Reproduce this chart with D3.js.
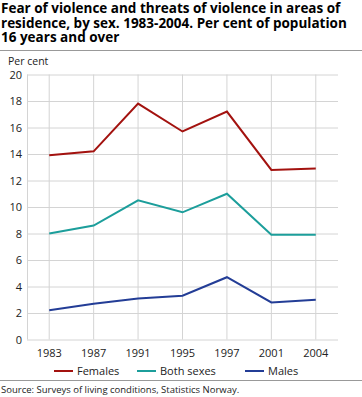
<!DOCTYPE html>
<html><head><meta charset="utf-8">
<script src="https://cdn.jsdelivr.net/npm/d3@7"></script>
<style>body{margin:0;background:#fff;} text{font-family:"Open Sans",sans-serif;}</style>
</head><body>
<svg id="c" width="362" height="397"></svg>
<script>
const years = ["1983","1987","1991","1995","1997","2001","2004"];
const females = [13.9,14.2,17.8,15.7,17.2,12.8,12.9];
const bothSexes = [8.0,8.6,10.5,9.6,11.0,7.9,7.9];
const males = [2.2,2.7,3.1,3.3,4.7,2.8,3.0];
const seriesNames = ["Females","Both sexes","Males"];
const seriesColors = ["#a3120f","#1c9e9b","#233d96"];
const yTicks = [0,2,4,6,8,10,12,14,16,18,20];
const titleLines = ["Fear of violence and threats of violence in areas of","residence, by sex. 1983-2004. Per cent of population","16 years and over"];

const svg = d3.select("#c");
const L=27, R=338, T=74.5, B=339.5;
const x = d3.scaleBand().domain(years).range([L,R]);
const y = d3.scaleLinear().domain([0,20]).range([B,T]);

// title
svg.append("g").selectAll("text").data(titleLines).join("text")
  .attr("x",1).attr("y",(d,i)=>13+i*14.5)
  .attr("font-size","13.5px").attr("font-weight","bold").attr("fill","#000")
  .text(d=>d);
svg.append("line").attr("x1",0).attr("x2",362).attr("y1",50.5).attr("y2",50.5).attr("stroke","#999").attr("stroke-width",1);

svg.append("text").attr("x",8).attr("y",65).attr("font-size","10.5px").attr("fill","#222").text("Per cent");

// horizontal grid
const gy = svg.append("g").attr("transform",`translate(${L},0)`)
  .call(d3.axisLeft(y).tickValues(yTicks).tickSize(-(R-L)).tickFormat(d3.format("d")));
gy.select(".domain").remove();
gy.selectAll(".tick line").attr("stroke","#d4d4d4");
gy.selectAll(".tick text").attr("x",-5).attr("font-size","11px").attr("fill","#222").attr("font-family","Open Sans, sans-serif");

// vertical grid
const gx = svg.append("g").attr("transform",`translate(0,${B})`)
  .call(d3.axisBottom(x).tickSize(-(B-T)).tickPadding(6));
gx.select(".domain").remove();
gx.selectAll(".tick line").attr("stroke","#d4d4d4");
gx.selectAll(".tick text").attr("font-size","11px").attr("fill","#222").attr("dy","1em").attr("font-family","Open Sans, sans-serif");

svg.append("line").attr("x1",L+0.5).attr("x2",L+0.5).attr("y1",T).attr("y2",B).attr("stroke","#d4d4d4");

const data = [females,bothSexes,males];
const line = d3.line().x((d,i)=>x(years[i])+x.bandwidth()/2).y(d=>y(d));
svg.append("g").selectAll("path").data(data).join("path")
  .attr("d",line).attr("fill","none").attr("stroke",(d,i)=>seriesColors[i]).attr("stroke-width",2);

// legend
const legX = [54,137,245];
const lg = svg.append("g").selectAll("g").data(seriesNames).join("g")
  .attr("transform",(d,i)=>`translate(${legX[i]},371)`);
lg.append("line").attr("x1",0).attr("x2",19).attr("stroke",(d,i)=>seriesColors[i]).attr("stroke-width",2);
lg.append("text").attr("x",23).attr("y",4).attr("font-size","11px").attr("fill","#222").text(d=>d);

svg.append("line").attr("x1",0).attr("x2",362).attr("y1",380.5).attr("y2",380.5).attr("stroke","#999");
svg.append("text").attr("x",1).attr("y",393).attr("font-size","9.5px").attr("fill","#222").text("Source: Surveys of living conditions, Statistics Norway.");
</script>
</body></html>
